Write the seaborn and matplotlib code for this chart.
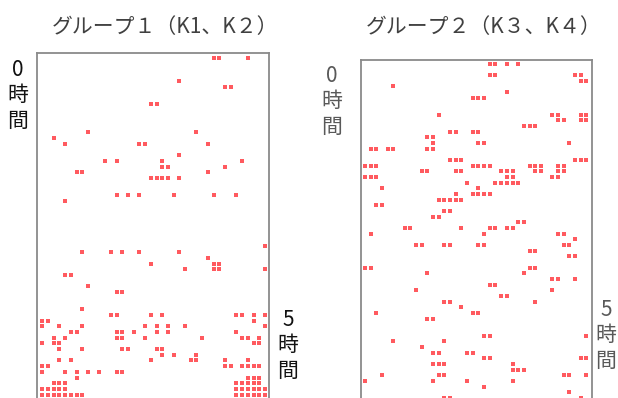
import pandas as pd
import seaborn as sns
import matplotlib.pyplot as plt

titles = ["グループ１（K1、K２）", "グループ２（K３、K４）"]
start_label = "0\n時\n間"
end_label = "5\n時\n間"

# time step (row) -> subjects (columns) with a mark
group1 = {
    0: [30, 31, 36], 4: [24], 5: [32, 33], 8: [19, 20], 13: [8, 27], 14: [2],
    15: [4, 17, 18, 29], 17: [24], 18: [11, 13, 21, 35], 19: [21, 22, 32],
    20: [6, 7, 29], 21: [19, 20, 21, 22, 24], 24: [13, 15, 17, 23, 30, 34],
    25: [4], 33: [39], 34: [7, 12, 14, 17, 24], 35: [29], 36: [19, 30, 31],
    37: [25, 30, 31, 39], 38: [4, 5], 40: [8], 41: [13, 14], 44: [7],
    45: [12, 13, 19, 21, 34, 35, 37, 39], 46: [0, 1, 37],
    47: [0, 3, 7, 18, 20, 22, 25, 39], 48: [5, 6, 13, 14, 16, 20, 22, 34],
    49: [2, 4, 13, 14, 18, 28, 35, 36, 38], 50: [0, 2, 3, 37, 38],
    51: [3, 7, 14, 15, 20, 21], 52: [21, 23, 27],
    53: [3, 5, 19, 26, 27, 32, 36], 54: [0, 1, 32, 33, 35, 36, 37, 38],
    55: [0, 4, 6, 8, 10, 13, 14], 56: [6, 36, 37, 38],
    57: [2, 3, 4, 34, 35, 36, 37, 38],
    58: [0, 1, 2, 3, 4, 34, 35, 36, 37, 38, 39],
    59: [0, 1, 2, 3, 4, 5, 6, 7, 34, 35, 36, 37, 38, 39],
}

group2 = {
    0: [22, 23, 25, 27], 2: [22, 23, 37, 38], 3: [38, 39], 4: [5], 5: [25],
    6: [19, 20, 21], 9: [13, 33, 34, 38, 39], 10: [34, 35, 38, 39],
    11: [28, 29, 30], 12: [15, 16, 19, 20], 13: [11, 12], 14: [12, 20, 21, 36],
    15: [1, 2, 4, 5, 11, 12], 17: [15, 16, 17, 37, 38, 39],
    18: [0, 1, 2, 19, 20, 21, 22, 29, 30, 31, 34, 35],
    19: [10, 11, 16, 17, 24, 25, 26, 30, 31, 34, 35],
    20: [0, 1, 2, 25, 26, 33, 34], 21: [18, 23, 24, 25, 26, 27], 22: [3, 20],
    23: [16, 19, 20, 21, 22], 24: [13, 14, 15, 16, 17], 25: [2, 3],
    26: [14, 15], 27: [12, 13], 28: [27, 28], 29: [7, 8, 17, 22, 23, 25, 26],
    30: [1, 21, 34, 35], 31: [37], 32: [9, 10, 14, 15, 20, 21, 35, 36],
    33: [29, 30], 34: [36, 37], 36: [0, 1, 29, 30], 37: [11, 28],
    38: [33, 34, 37], 39: [22, 23], 40: [9, 33], 41: [24, 25],
    42: [14, 15, 30], 43: [17], 44: [2, 19, 20], 45: [11, 12],
    48: [21, 22, 39], 49: [5, 14], 50: [10], 51: [12, 13, 18, 19],
    52: [21, 22, 38, 39], 53: [12, 13, 14, 26], 54: [26, 27, 28],
    55: [3, 13, 14, 35, 36, 39], 56: [0, 12, 18, 26], 57: [21], 58: [36],
    59: [14, 15, 38],
}


def to_frame(marks):
    pts = [(c, r) for r, cols in marks.items() for c in cols]
    return pd.DataFrame(pts, columns=["subject", "step"])


sns.set_style("white")
plt.rcParams['font.family'] = ['Noto Sans CJK JP', 'DejaVu Sans']

W, H = 618, 398
fig = plt.figure(figsize=(W / 100, H / 100), dpi=100)


def px_axes(x0, y0, x1, y1):
    return fig.add_axes([x0 / W, 1 - y1 / H, (x1 - x0) / W, (y1 - y0) / H])


ax1 = px_axes(37, 53, 269, 403)
ax2 = px_axes(361, 60, 592, 406)

panels = [
    (ax1, group1, (-0.93, 39.70), (60.47, -0.93)),
    (ax2, group2, (-0.72, 40.02), (60.4, -0.62)),
]
for ax, marks, xl, yl in panels:
    sns.scatterplot(data=to_frame(marks), x="subject", y="step", ax=ax,
                    marker="s", s=10, color="#ff5a5f", linewidth=0,
                    legend=False, clip_on=True)
    ax.set_xlim(*xl)
    ax.set_ylim(*yl)
    ax.set_xticks([])
    ax.set_yticks([])
    ax.set_xlabel("")
    ax.set_ylabel("")
    for sp in ax.spines.values():
        sp.set_color("#8a8a8a")
        sp.set_linewidth(1.3)

# titles
fig.text(165 / W, 1 - 27 / H, titles[0], ha="center", va="center",
         fontsize=15, color="#404040")
fig.text(484 / W, 1 - 27 / H, titles[1], ha="center", va="center",
         fontsize=15, color="#404040")

# time labels
lab = dict(ha="center", va="top", fontsize=15, linespacing=1.2)
fig.text(18 / W, 1 - 59 / H, start_label, color="#111111", **lab)
fig.text(288 / W, 1 - 309 / H, end_label, color="#111111", **lab)
fig.text(332 / W, 1 - 65 / H, start_label, color="#595959", **lab)
fig.text(606 / W, 1 - 299 / H, end_label, color="#595959", **lab)

fig.savefig("out.png", dpi=100)
